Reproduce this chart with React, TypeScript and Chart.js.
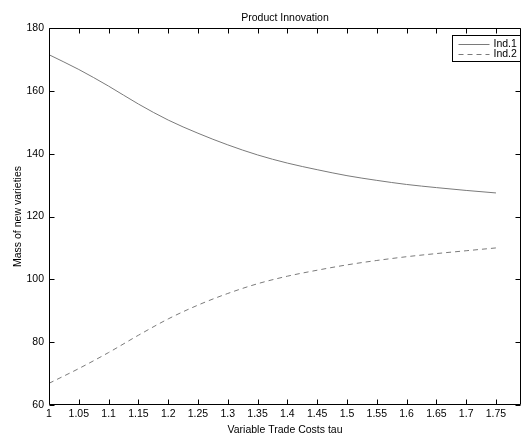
import React, { useEffect, useRef } from "react";
import { Chart, registerables } from "chart.js";

Chart.register(...registerables);

const tau = [1, 1.05, 1.1, 1.15, 1.2, 1.25, 1.3, 1.35, 1.4, 1.45, 1.5, 1.55, 1.6, 1.65, 1.7, 1.75];
const ind1 = [171.5, 166.8, 161.5, 155.8, 150.7, 146.5, 142.8, 139.6, 137.0, 134.9, 133.0, 131.5, 130.2, 129.2, 128.3, 127.5];
const ind2 = [66.9, 71.6, 76.7, 82.2, 87.4, 91.8, 95.5, 98.6, 101.0, 102.9, 104.6, 106.0, 107.2, 108.2, 109.1, 110.0];
const xTicks = [1, 1.05, 1.1, 1.15, 1.2, 1.25, 1.3, 1.35, 1.4, 1.45, 1.5, 1.55, 1.6, 1.65, 1.7, 1.75];
const yTicks = [60, 80, 100, 120, 140, 160, 180];
const seriesLabels = ["Ind.1", "Ind.2"];

const FONT = "'Liberation Sans', Arial, Helvetica, sans-serif";
const FS = 10.5;

const boxPlugin = {
  id: "matlabBox",
  afterDraw(chart: any) {
    const { ctx, chartArea: a, scales } = chart;
    ctx.save();
    ctx.strokeStyle = "#000";
    ctx.lineWidth = 1;
    ctx.beginPath();
    const L = Math.round(a.left) + 0.5;
    const R = Math.round(a.right) - 0.5;
    const T = Math.round(a.top) + 0.5;
    const B = Math.round(a.bottom) - 0.5;
    ctx.rect(L, T, R - L, B - T);
    const tl = 5;
    xTicks.forEach((v) => {
      const x = Math.round(scales.x.getPixelForValue(v)) + 0.5;
      ctx.moveTo(x, B);
      ctx.lineTo(x, B - tl);
      ctx.moveTo(x, T);
      ctx.lineTo(x, T + tl);
    });
    yTicks.forEach((v) => {
      const y = Math.round(scales.y.getPixelForValue(v)) + 0.5;
      ctx.moveTo(L, y);
      ctx.lineTo(L + tl, y);
      ctx.moveTo(R, y);
      ctx.lineTo(R - tl, y);
    });
    ctx.stroke();

    // legend box
    const lx = 452.5, ly = 35.5, lw = 68, lh = 26;
    ctx.fillStyle = "#fff";
    ctx.fillRect(lx, ly, lw, lh);
    ctx.strokeStyle = "#000";
    ctx.strokeRect(lx, ly, lw, lh);
    ctx.font = `${FS}px ${FONT}`;
    ctx.textBaseline = "middle";
    ctx.textAlign = "left";
    chart.data.datasets.forEach((ds: any, i: number) => {
      const yy = ly + 8.5 + i * 10;
      ctx.strokeStyle = ds.borderColor;
      ctx.setLineDash(ds.borderDash || []);
      ctx.beginPath();
      ctx.moveTo(lx + 6, Math.round(yy) + 0.5);
      ctx.lineTo(lx + 37, Math.round(yy) + 0.5);
      ctx.stroke();
      ctx.setLineDash([]);
      ctx.fillStyle = "#000";
      ctx.fillText(ds.label, lx + 41, yy + 0.5);
    });
    ctx.restore();
  },
};

export default function App() {
  const ref = useRef<HTMLCanvasElement | null>(null);
  useEffect(() => {
    if (!ref.current) return;
    const chart = new Chart(ref.current, {
      type: "line",
      data: {
        datasets: [
          {
            label: seriesLabels[0],
            data: tau.map((t, i) => ({ x: t, y: ind1[i] })),
            borderColor: "#7a7a7a",
            borderWidth: 1,
            pointRadius: 0,
            cubicInterpolationMode: "monotone",
          },
          {
            label: seriesLabels[1],
            data: tau.map((t, i) => ({ x: t, y: ind2[i] })),
            borderColor: "#7a7a7a",
            borderWidth: 1,
            borderDash: [5, 4],
            pointRadius: 0,
            cubicInterpolationMode: "monotone",
          },
        ],
      },
      options: {
        responsive: false,
        animation: false,
        layout: { padding: { left: 0, right: 1, top: 0, bottom: 0 } },
        plugins: {
          legend: { display: false },
          tooltip: { enabled: false },
          title: {
            display: true,
            text: "Product Innovation",
            fullSize: false,
            color: "#000",
            font: { family: FONT, size: FS, weight: "normal" },
            padding: { top: 11.7, bottom: 3.7 },
          },
        },
        scales: {
          x: {
            type: "linear",
            min: 1,
            max: 1.792,
            grid: { display: false, drawTicks: false },
            border: { display: false },
            afterFit: (s: any) => {
              s.height = 31;
            },
            afterBuildTicks: (s: any) => {
              s.ticks = xTicks.map((v) => ({ value: v }));
            },
            ticks: {
              color: "#000",
              padding: 3,
              maxRotation: 0,
              autoSkip: false,
              font: { family: FONT, size: FS },
              callback: (v: any) => String(Number(v)),
            },
            title: {
              display: true,
              text: "Variable Trade Costs tau",
              color: "#000",
              font: { family: FONT, size: FS },
              padding: { top: 2.7, bottom: 0 },
            },
          },
          y: {
            type: "linear",
            min: 60,
            max: 180,
            grid: { display: false, drawTicks: false },
            border: { display: false },
            afterFit: (s: any) => {
              s.width = 49;
            },
            afterBuildTicks: (s: any) => {
              s.ticks = yTicks.map((v) => ({ value: v }));
            },
            ticks: {
              color: "#000",
              padding: 5,
              font: { family: FONT, size: FS },
            },
            title: {
              display: true,
              text: "Mass of new varieties",
              color: "#000",
              font: { family: FONT, size: FS },
              padding: { top: 11.7, bottom: 0 },
            },
          },
        },
      },
      plugins: [boxPlugin],
    } as any);
    return () => chart.destroy();
  }, []);
  return (
    <div style={{ position: "fixed", left: 0, top: 0, width: 522, height: 436, background: "#fff" }}>
      <canvas ref={ref} width={522} height={436} style={{ display: "block" }} />
    </div>
  );
}
